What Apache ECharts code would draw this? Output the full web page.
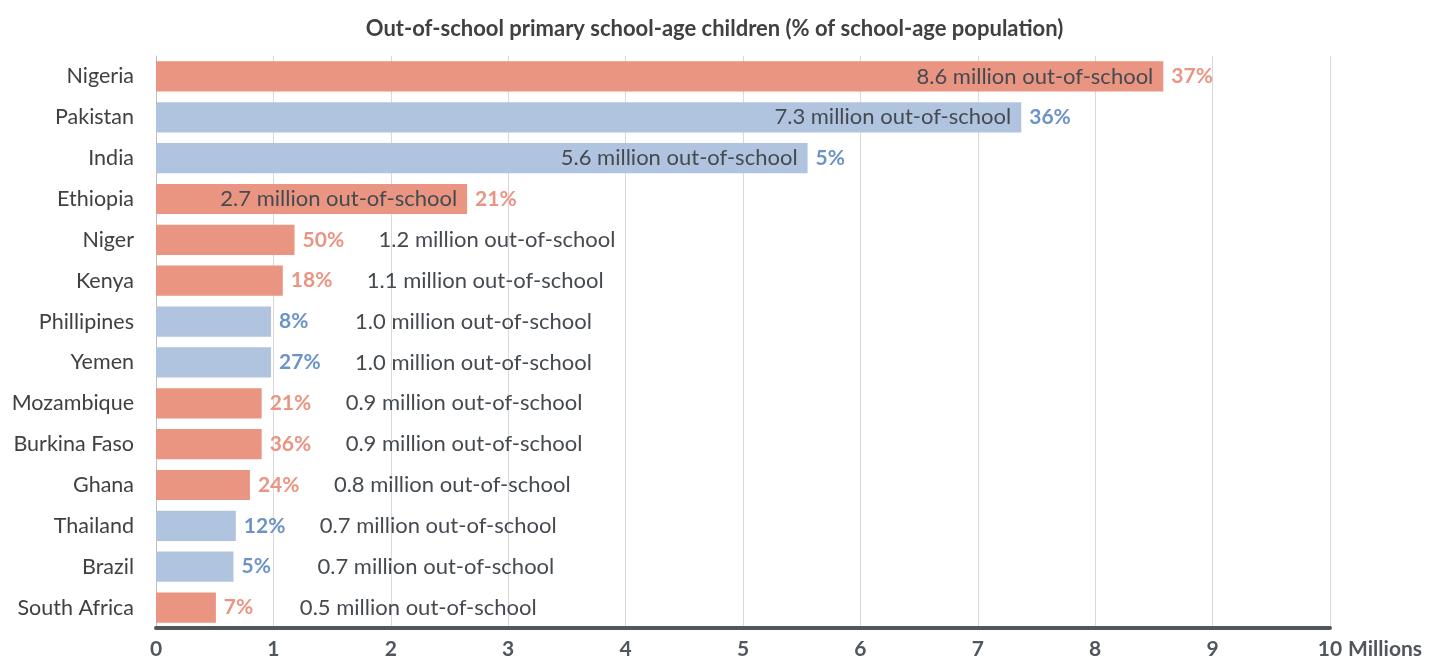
<!DOCTYPE html>
<html><head><meta charset="utf-8">
<script src="https://cdn.jsdelivr.net/npm/echarts@6/dist/echarts.min.js"></script>
<style>html,body{margin:0;padding:0;background:#fff}#c{width:1429px;height:662px}</style>
</head><body><div id="c"></div>
<script>
const countries = ['Nigeria','Pakistan','India','Ethiopia','Niger','Kenya','Phillipines','Yemen','Mozambique','Burkina Faso','Ghana','Thailand','Brazil','South Africa'];
const outOfSchoolMillions = [8.58, 7.37, 5.55, 2.65, 1.18, 1.08, 0.98, 0.98, 0.90, 0.90, 0.80, 0.68, 0.66, 0.51];
const millionLabels = ['8.6','7.3','5.6','2.7','1.2','1.1','1.0','1.0','0.9','0.9','0.8','0.7','0.7','0.5'];
const percentLabels = ['37%','36%','5%','21%','50%','18%','8%','27%','21%','36%','24%','12%','5%','7%'];
const groups = ['africa','asia','asia','africa','africa','africa','asia','asia','africa','africa','africa','asia','asia','africa'];
const xTicks = [0,1,2,3,4,5,6,7,8,9,10];

const FONT = 'Lato, "Open Sans", sans-serif';
const barColor = {africa:'#E99582', asia:'#B0C4E0'};
const pctColor = {africa:'#E99582', asia:'#6C93C8'};

const barData = outOfSchoolMillions.map((v,i)=>({
  value: v,
  itemStyle:{color: barColor[groups[i]]},
  label:{color: pctColor[groups[i]]}
}));
const textData = outOfSchoolMillions.map((v,i)=>{
  const inside = v >= 2;
  return {
    value: v,
    label: inside ? {position:'insideRight', distance:10} : {position:'right', distance:84}
  };
});

const chart = echarts.init(document.getElementById('c'), null, {renderer:'canvas'});
chart.setOption({
  animation:false,
  title:{
    text:'Out-of-school primary school-age children (% of school-age population)',
    left:'center', top:13,
    textStyle:{fontFamily:FONT, fontSize:22, fontWeight:'bold', color:'#404040'}
  },
  grid:{left:156, right:99, top:56, height:572, containLabel:false},
  xAxis:{
    type:'value', min:xTicks[0], max:xTicks[xTicks.length-1], interval:1,
    name:'Millions', nameLocation:'end', nameGap:17,
    nameTextStyle:{fontFamily:FONT, fontSize:21, fontWeight:'bold', color:'#50565c', verticalAlign:'top', padding:[11,0,0,0], align:'left'},
    axisLine:{show:true, lineStyle:{color:'#50565c', width:4}},
    axisTick:{show:false},
    axisLabel:{fontFamily:FONT, fontSize:21, fontWeight:'bold', color:'#50565c', margin:11},
    splitLine:{show:true, lineStyle:{color:'#d9d9d9', width:1}}
  },
  yAxis:{
    type:'category', data:countries, inverse:true,
    axisLine:{show:true, lineStyle:{color:'#bfbfbf', width:1}},
    axisTick:{show:false},
    axisLabel:{fontFamily:FONT, fontSize:21.5, color:'#404040', margin:22}
  },
  series:[
    {
      type:'bar', data:barData, barCategoryGap:'26%',
      label:{show:true, position:'right', distance:8, fontFamily:FONT, fontSize:21, fontWeight:'bold',
        formatter:p=>percentLabels[p.dataIndex]}
    },
    {
      type:'bar', data:textData, barGap:'-100%', barCategoryGap:'26%',
      itemStyle:{color:'rgba(0,0,0,0)'}, silent:true,
      label:{show:true, fontFamily:FONT, fontSize:22, color:'#454a50',
        formatter:p=>millionLabels[p.dataIndex]+' million out-of-school'}
    }
  ]
});
</script></body></html>
